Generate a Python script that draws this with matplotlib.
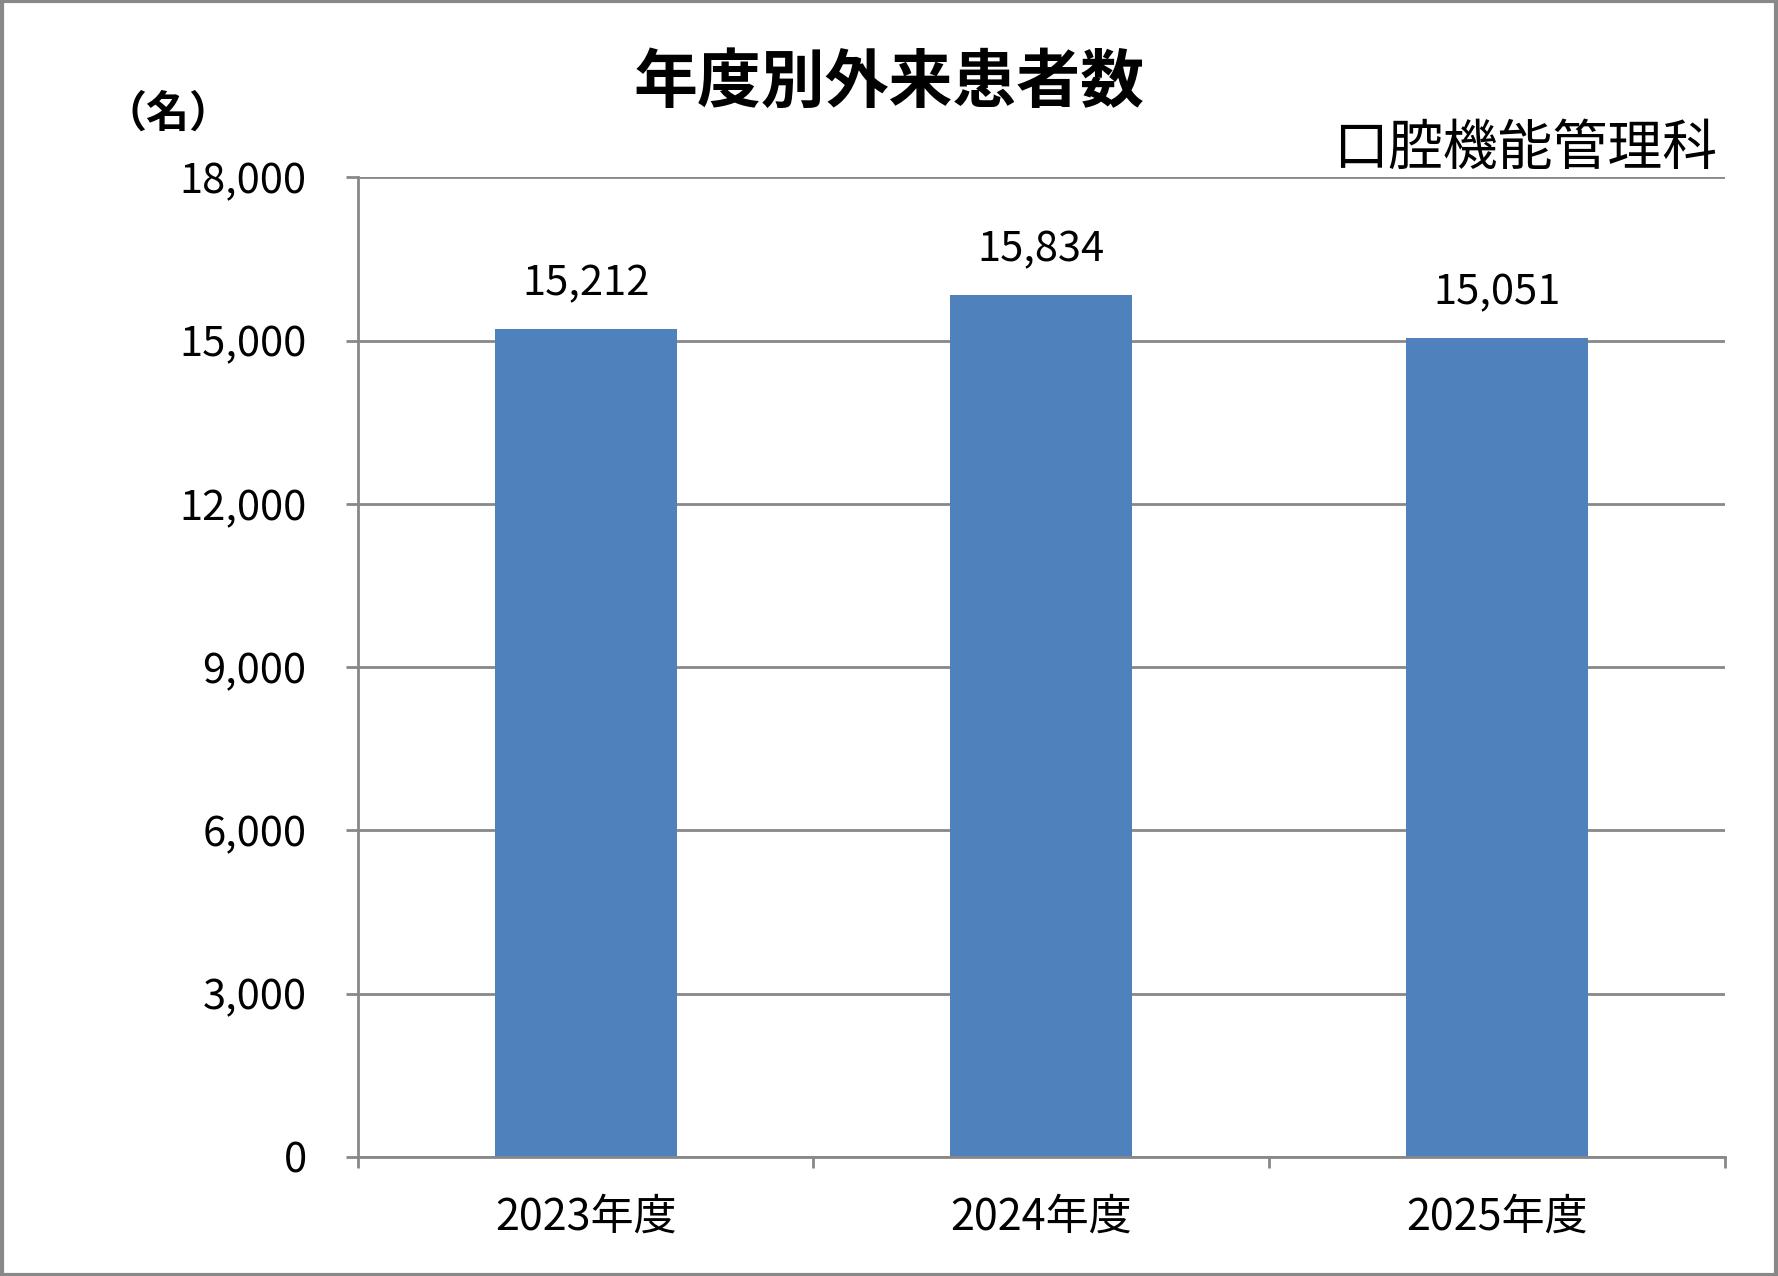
import matplotlib
matplotlib.use("Agg")
import matplotlib.pyplot as plt
from matplotlib.patches import Rectangle

plt.rcParams['font.family'] = ['Noto Sans CJK JP', 'DejaVu Sans']

# データ
categories = ["2023年度", "2024年度", "2025年度"]
patients = [15212, 15834, 15051]
y_ticks = [0, 3000, 6000, 9000, 12000, 15000, 18000]

bar_color = "#4F81BD"
grid_color = "#888888"

fig = plt.figure(figsize=(17.78, 12.76), dpi=100)
ax = fig.add_axes([0.2013, 0.0933, 0.7687, 0.7677])

x = list(range(len(categories)))
ax.bar(x, patients, width=0.4, color=bar_color, zorder=3)

for xi, v in zip(x, patients):
    ax.annotate("{:,}".format(v), (xi, v), xytext=(0, 18), textcoords="offset points",
                ha="center", va="bottom", fontsize=30)

ax.set_xlim(-0.5, len(categories) - 0.5)
ax.set_ylim(0, 18000)
ax.set_yticks(y_ticks)
ax.set_yticklabels(["{:,}".format(t) for t in y_ticks], fontsize=30)
ax.set_xticks(x)
ax.set_xticklabels(categories, fontsize=31)
ax.set_xticks([i - 0.5 for i in range(len(categories) + 1)], minor=True)

ax.tick_params(axis="x", which="major", length=0, pad=28)
ax.tick_params(axis="x", which="minor", length=8, width=2, color=grid_color, direction="out")
ax.tick_params(axis="y", length=9, width=2, color=grid_color, pad=28)

ax.grid(axis="y", color=grid_color, linewidth=2, zorder=0)
for s in ["top", "right"]:
    ax.spines[s].set_visible(False)
for s in ["left", "bottom"]:
    ax.spines[s].set_color(grid_color)
    ax.spines[s].set_linewidth(2)
    ax.spines[s].set_zorder(4)

fig.text(0.5, 0.935, "年度別外来患者数", ha="center", va="center",
         fontsize=46, fontweight="bold")
fig.text(0.966, 0.883, "口腔機能管理科", ha="right", va="center", fontsize=39.5)
fig.text(0.058, 0.911, "（名）", ha="left", va="center", fontsize=31, fontweight="bold")

# 外枠
fig.patches.append(Rectangle((0.001, 0.001), 0.998, 0.998, transform=fig.transFigure,
                             fill=False, edgecolor=grid_color, linewidth=3))

fig.savefig("out.png", dpi=100)
